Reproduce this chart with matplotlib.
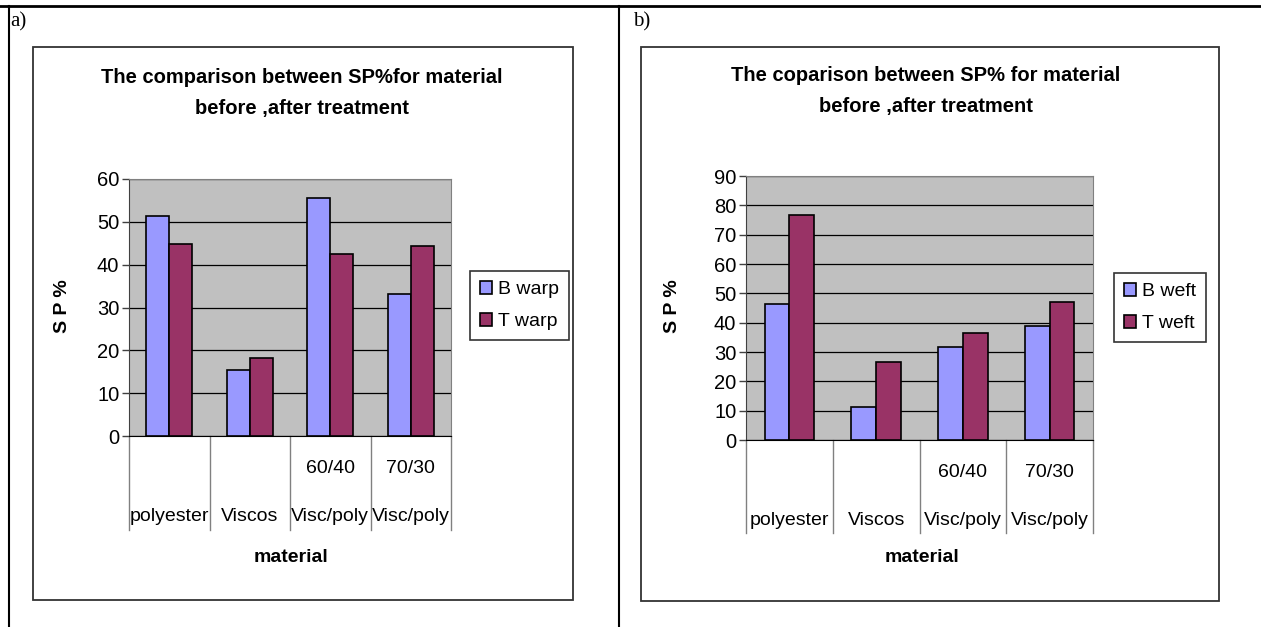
import matplotlib
matplotlib.use("Agg")
import matplotlib.pyplot as plt
import matplotlib.transforms as mtransforms
from matplotlib.lines import Line2D
from matplotlib.patches import Rectangle
import numpy as np

plt.rcParams['font.family'] = ['Liberation Sans', 'DejaVu Sans']

categories = ["\n\npolyester", "\n\nViscos", "60/40\n\nVisc/poly", "70/30\n\nVisc/poly"]

warp_before = [51.3, 15.4, 55.5, 33.1]
warp_after = [44.8, 18.1, 42.5, 44.3]
weft_before = [46.2, 11.1, 31.7, 39.0]
weft_after = [76.6, 26.5, 36.5, 46.9]

title_a = "The comparison between SP%for material\nbefore ,after treatment"
title_b = "The coparison between SP% for material\nbefore ,after treatment"

COL_B = "#9999FF"
COL_T = "#993366"
W, H = 1261, 627

fig = plt.figure(figsize=(W / 100, H / 100), dpi=100)


def fx(px):
    return px / W


def fy(py):
    return 1 - py / H


def panel(rect, ylab_x, b_vals, t_vals, ymax, labels, title, title_xy, xlab_xy, leg_xy, sep_bottom):
    ax = fig.add_axes(rect)
    ax.set_facecolor("#C0C0C0")
    x = np.arange(len(categories))
    w = 0.286
    ax.bar(x - w / 2, b_vals, w, color=COL_B, edgecolor="black", linewidth=1.2,
           label=labels[0], zorder=3)
    ax.bar(x + w / 2, t_vals, w, color=COL_T, edgecolor="black", linewidth=1.2,
           label=labels[1], zorder=3)
    ax.set_xlim(-0.5, len(categories) - 0.5)
    ax.set_ylim(0, ymax)
    ax.set_yticks(np.arange(0, ymax + 1, 10))
    ax.yaxis.grid(True, color="black", linewidth=0.9, zorder=1)
    ax.set_axisbelow(True)
    for s in ("top", "right"):
        ax.spines[s].set_color("#808080")
    ax.spines["left"].set_color("#404040")
    ax.spines["bottom"].set_color("black")
    ax.tick_params(axis="y", direction="out", length=5, width=1, labelsize=14.5, pad=2,
                   color="#404040")
    ax.set_xticks(x)
    ax.set_xticklabels(categories, fontsize=14, linespacing=1.55, va="top")
    ax.tick_params(axis="x", length=0, pad=17)
    trans = mtransforms.blended_transform_factory(ax.transData, ax.transAxes)
    for b in np.arange(-0.5, len(categories), 1.0):
        ax.plot([b, b], [0, sep_bottom], color="#808080", linewidth=1, transform=trans,
                clip_on=False)
    ax.set_ylabel("S P %", fontsize=14, fontweight="bold")
    ax.yaxis.set_label_coords(ylab_x, 0.507)
    fig.text(title_xy[0], title_xy[1], title, ha="center", va="center", fontsize=14.5,
             fontweight="bold", linespacing=1.85)
    fig.text(xlab_xy[0], xlab_xy[1], "material", ha="center", va="center", fontsize=14,
             fontweight="bold")
    leg = ax.legend(loc="center left", bbox_to_anchor=leg_xy, bbox_transform=fig.transFigure,
                    fontsize=14, frameon=True, fancybox=False, edgecolor="black",
                    handlelength=0.65, handleheight=0.65, handletextpad=0.3,
                    labelspacing=0.75, borderpad=0.5, borderaxespad=0)
    leg.get_frame().set_linewidth(1.2)
    return ax


# outer table lines
fig.add_artist(Line2D([0, 1], [fy(6), fy(6)], color="black", linewidth=2))
fig.add_artist(Line2D([fx(9), fx(9)], [0, fy(6)], color="black", linewidth=1.5))
fig.add_artist(Line2D([fx(619), fx(619)], [0, fy(6)], color="black", linewidth=1.5))

# chart boxes
fig.add_artist(Rectangle((fx(33), fy(600)), fx(573) - fx(33), fy(47) - fy(600),
                         fill=False, edgecolor="#333333", linewidth=1.3))
fig.add_artist(Rectangle((fx(641), fy(601)), fx(1219) - fx(641), fy(47) - fy(601),
                         fill=False, edgecolor="#333333", linewidth=1.3))

fig.text(fx(10), fy(22), "a)", fontsize=15, family="Liberation Serif", va="center")
fig.text(fx(633), fy(22), "b)", fontsize=15, family="Liberation Serif", va="center")

rect_a = [fx(129), fy(436), fx(451) - fx(129), fy(179) - fy(436)]
panel(rect_a, -0.18, warp_before, warp_after, 60, ["B warp", "T warp"], title_a,
      (fx(302), fy(93)), (fx(291), fy(557)), (fx(470), fy(305.5)), -0.366)

rect_b = [fx(746), fy(440), fx(1093) - fx(746), fy(176) - fy(440)]
panel(rect_b, -0.187, weft_before, weft_after, 90, ["B weft", "T weft"], title_b,
      (fx(926), fy(91)), (fx(922), fy(558)), (fx(1114), fy(307.5)), -0.352)

fig.savefig("out.png", dpi=100, facecolor="white")
